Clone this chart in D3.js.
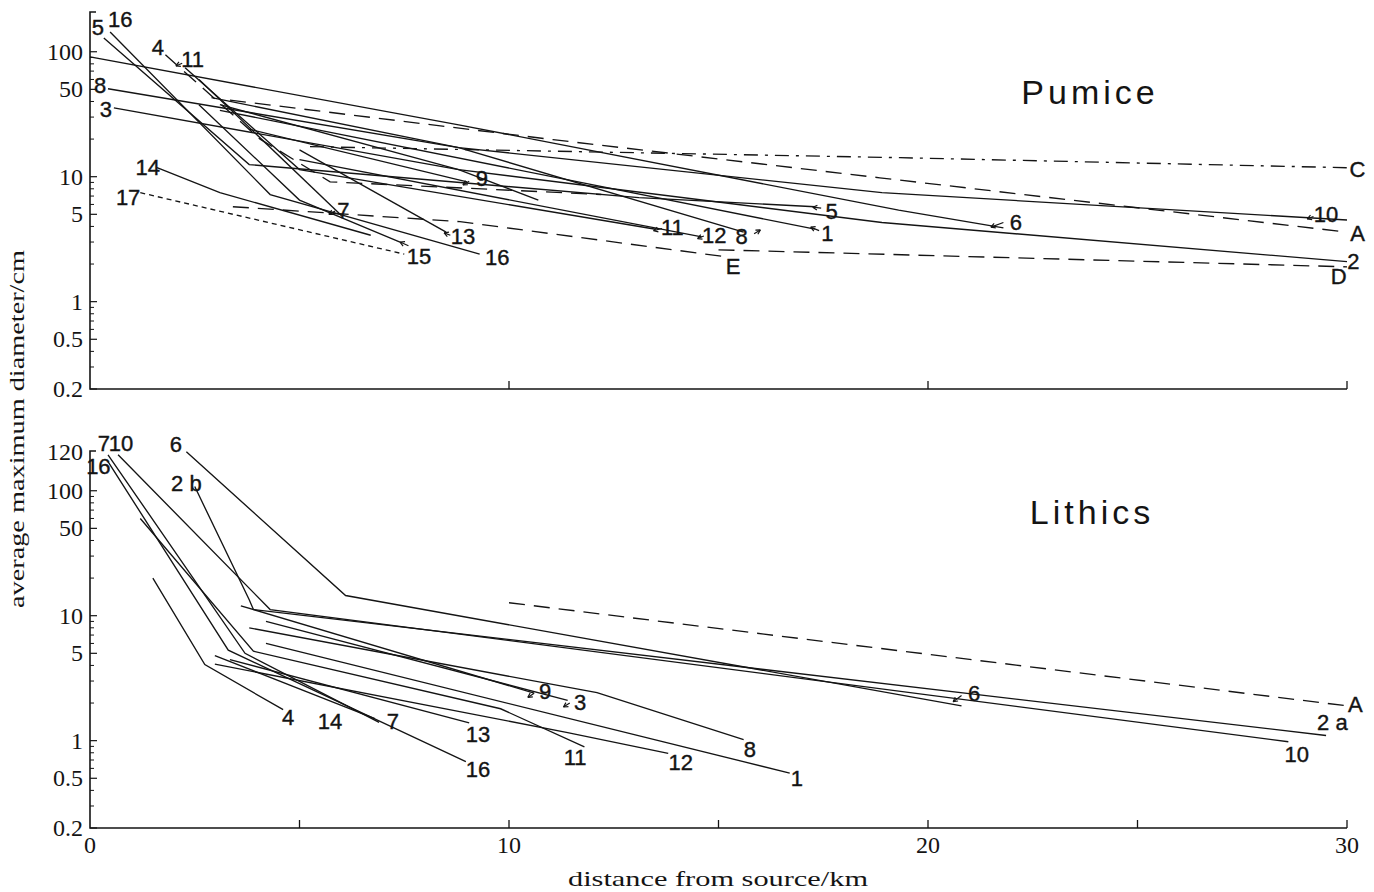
<!DOCTYPE html>
<html>
<head>
<meta charset="utf-8">
<script src="https://cdn.jsdelivr.net/npm/d3@7"></script>
<style>
  html, body { margin: 0; padding: 0; background: #ffffff; }
  svg { display: block; }
</style>
</head>
<body>
<svg id="chart" width="1374" height="892"></svg>
<script>
// ---- axis ticks -------------------------------------------------------
const xLabelTicks = [0, 10, 20, 30];
const xLowerTicks = [5, 10, 15, 20, 25, 30];
const xUpperTicks = [10, 20, 30];
const yLabelTicks = [0.2, 0.5, 1, 5, 10, 50, 100];
const yMinorTicks = [0.3, 0.4, 0.6, 0.7, 0.8, 0.9, 2, 3, 4, 6, 7, 8, 9, 20, 30, 40, 60, 70, 80, 90];
const yTopLabelLower = "120";

// ---- pumice: distance (km) vs average maximum diameter (cm) -----------
const pumiceLines = [
  { id: "6",  dash: "solid",  pts: [[0, 91], [8.8, 26], [19.3, 5.4], [21.8, 3.9]] },
  { id: "10", dash: "solid",  pts: [[2.9, 42.9], [8.8, 17.1], [18.9, 7.45], [30, 4.5]] },
  { id: "2",  dash: "solid",  pts: [[3.1, 37.7], [8.8, 11.4], [18.9, 4.3], [30, 2.09]] },
  { id: "8",  dash: "solid",  pts: [[0.43, 50.6], [8.8, 17.1], [15.6, 3.6]] },
  { id: "3",  dash: "solid",  pts: [[0.57, 35.6], [8.8, 11.4], [10.7, 6.5]] },
  { id: "16", dash: "solid",  pts: [[0.48, 144], [4.3, 7.2], [9.3, 2.4]] },
  { id: "5",  dash: "solid",  pts: [[0.33, 129], [3.8, 12.5], [13.1, 6.8], [17.3, 5.75]] },
  { id: "4",  dash: "dashed", pts: [[1.8, 94.6], [4.06, 20], [5.73, 9.1], [12.2, 7.2]] },
  { id: "11", dash: "solid",  pts: [[2.27, 74.5], [5.0, 11.4], [13.5, 3.8]] },
  { id: "14", dash: "solid",  pts: [[1.6, 11.8], [3.1, 7.45], [6.7, 3.4]] },
  { id: "17", dash: "dotted", pts: [[1.2, 7.45], [7.5, 2.4]] },
  { id: "15", dash: "solid",  pts: [[2.6, 37.7], [5.0, 6.5], [7.4, 3.0]] },
  { id: "7",  dash: "solid",  pts: [[2.6, 60], [6.0, 4.9]] },
  { id: "13", dash: "solid",  pts: [[5.0, 16.4], [8.5, 3.6]] },
  { id: "9",  dash: "solid",  pts: [[3.8, 24], [9.0, 9.1]] },
  { id: "12", dash: "solid",  pts: [[5.0, 13.7], [14.6, 3.3]] },
  { id: "1",  dash: "solid",  pts: [[3.1, 34], [17.3, 3.8]] },
  { id: "A",  dash: "dashed", pts: [[3.34, 41], [11.05, 19.8], [18.85, 9.8], [30, 3.6]] },
  { id: "C",  dash: "dashdot", pts: [[5.25, 17.4], [19.33, 14.2], [30, 11.8]] },
  { id: "D",  dash: "dashed", pts: [[15.0, 2.6], [30, 1.9]] },
  { id: "E",  dash: "dashed", pts: [[3.41, 5.75], [8.83, 4.37], [15.16, 2.29]] }
];

// ---- lithics ----------------------------------------------------------
const lithicLines = [
  { id: "6",  dash: "solid",  pts: [[2.3, 205], [6.1, 14.5], [20.8, 1.9]] },
  { id: "2b", dash: "solid",  pts: [[2.5, 108], [3.8, 13.4], [3.9, 11.2]] },
  { id: "2a", dash: "solid",  pts: [[3.9, 11.2], [29.5, 1.1]] },
  { id: "10", dash: "solid",  pts: [[0.67, 194], [4.3, 11.2], [28.6, 0.98]] },
  { id: "7",  dash: "solid",  pts: [[0.43, 194], [3.7, 5.0], [6.9, 1.4]] },
  { id: "16", dash: "solid",  pts: [[0.43, 171], [3.3, 5.3], [8.97, 0.68]] },
  { id: "A",  dash: "dashed", pts: [[10.0, 12.7], [30, 1.9]] },
  { id: "8",  dash: "solid",  pts: [[3.8, 8.0], [12.1, 2.42], [15.6, 1.02]] },
  { id: "1",  dash: "solid",  pts: [[4.2, 6.0], [16.7, 0.55]] },
  { id: "12", dash: "solid",  pts: [[2.98, 4.1], [11.4, 1.16], [13.8, 0.79]] },
  { id: "11", dash: "solid",  pts: [[1.2, 60], [3.9, 5.2], [9.8, 1.8], [11.8, 0.89]] },
  { id: "13", dash: "solid",  pts: [[3.34, 4.45], [9.05, 1.39]] },
  { id: "4",  dash: "solid",  pts: [[1.5, 20], [2.74, 4.06], [4.61, 1.77]] },
  { id: "14", dash: "solid",  pts: [[2.98, 4.8], [6.8, 1.5]] },
  { id: "9",  dash: "solid",  pts: [[3.6, 12], [10.6, 2.4]] },
  { id: "3",  dash: "solid",  pts: [[4.2, 9.0], [11.4, 2.1]] }
];

// ---- line labels (text, position, optional pointer end) ---------------
const pumiceLabels = [
  { t: "5",  at: [0.19, 156] }, { t: "16", at: [0.72, 180] },
  { t: "4",  at: [1.62, 108] }, { t: "11", at: [2.45, 86], ptr: [[2.2, 81], [2.05, 77]] },
  { t: "8",  at: [0.24, 53.5] }, { t: "3", at: [0.38, 34.2] },
  { t: "14", at: [1.38, 11.8] }, { t: "17", at: [0.91, 6.8] },
  { t: "15", at: [7.85, 2.3], ptr: [[7.6, 2.8], [7.4, 3.0]] },
  { t: "16", at: [9.72, 2.25] },
  { t: "7",  at: [6.05, 5.4], ptr: [[5.85, 5.3], [5.7, 5.0]] },
  { t: "13", at: [8.9, 3.3],  ptr: [[8.6, 3.4], [8.45, 3.55]] },
  { t: "9",  at: [9.35, 9.6], ptr: [[9.05, 9.2], [8.9, 8.6]] },
  { t: "11", at: [13.9, 3.95], ptr: [[13.65, 3.85], [13.45, 3.7]] },
  { t: "12", at: [14.9, 3.4], ptr: [[14.65, 3.35], [14.5, 3.2]] },
  { t: "8",  at: [15.55, 3.3], ptr: [[15.85, 3.5], [16.0, 3.75]] },
  { t: "5",  at: [17.7, 5.25], ptr: [[17.45, 5.6], [17.25, 5.7]] },
  { t: "1",  at: [17.6, 3.5], ptr: [[17.4, 3.7], [17.2, 3.95]] },
  { t: "6",  at: [22.1, 4.3], ptr: [[21.8, 4.3], [21.5, 3.95]] },
  { t: "10", at: [29.5, 4.95], ptr: [[29.2, 4.8], [29.05, 4.6]] },
  { t: "C",  at: [30.25, 11.4] }, { t: "A", at: [30.25, 3.5] },
  { t: "2",  at: [30.15, 2.1] }, { t: "D", at: [29.8, 1.6] },
  { t: "E",  at: [15.35, 1.9] }
];
const lithicLabels = [
  { t: "7",  at: [0.33, 240] }, { t: "10", at: [0.74, 240] },
  { t: "16", at: [0.2, 155] }, { t: "6", at: [2.05, 235] },
  { t: "2 b", at: [2.3, 115] },
  { t: "A",  at: [30.2, 1.95] }, { t: "2 a", at: [29.65, 1.4] },
  { t: "10", at: [28.8, 0.77] },
  { t: "6",  at: [21.1, 2.4], ptr: [[20.8, 2.3], [20.6, 2.05]] },
  { t: "9",  at: [10.86, 2.47], ptr: [[10.6, 2.4], [10.45, 2.22]] },
  { t: "3",  at: [11.7, 2.01], ptr: [[11.45, 2.0], [11.3, 1.86]] },
  { t: "8",  at: [15.75, 0.85] }, { t: "1", at: [16.87, 0.5] },
  { t: "12", at: [14.1, 0.667] }, { t: "11", at: [11.58, 0.73] },
  { t: "13", at: [9.26, 1.12] }, { t: "16", at: [9.26, 0.586] },
  { t: "4",  at: [4.73, 1.53] }, { t: "14", at: [5.73, 1.42] },
  { t: "7",  at: [7.23, 1.42] }
];

// ---- drawing ----------------------------------------------------------
const svg = d3.select("#chart");
const ink = "#141414";
const serif = "'Liberation Serif', 'DejaVu Serif', serif";
const hand = "'Liberation Sans Narrow', 'Liberation Sans', 'DejaVu Sans Condensed', sans-serif";

const x = d3.scaleLinear().domain([0, 30]).range([90, 1347]);
const yDomain = [0.2, 208];
const panels = [
  { title: "Pumice",  lines: pumiceLines, labels: pumiceLabels,
    y: d3.scaleLog().domain(yDomain).range([389, 12]), xTicks: xUpperTicks, showX: false, titleAt: [1090, 104] },
  { title: "Lithics", lines: lithicLines, labels: lithicLabels,
    y: d3.scaleLog().domain(yDomain).range([828, 451]), xTicks: xLowerTicks, showX: true, titleAt: [1092, 524] }
];

const dashes = { solid: null, dashed: "16,9", dotted: "5,4", dashdot: "14,7,3,7" };

panels.forEach((p, pi) => {
  const g = svg.append("g");
  const y = p.y;
  const [yBottom, yTop] = y.range();

  // y axis line with the small top bracket, and the x axis line
  g.append("path")
    .attr("d", `M${x(0) + 6},${yTop}H${x(0)}V${yBottom}H${x(30)}`)
    .attr("fill", "none").attr("stroke", ink).attr("stroke-width", 1.6);

  // y ticks (pointing inward)
  g.selectAll(".ymaj").data(yLabelTicks).join("line")
    .attr("x1", x(0)).attr("x2", x(0) + 7)
    .attr("y1", d => y(d)).attr("y2", d => y(d))
    .attr("stroke", ink).attr("stroke-width", 1.2);
  g.selectAll(".ymin").data(yMinorTicks).join("line")
    .attr("x1", x(0)).attr("x2", x(0) + 4)
    .attr("y1", d => y(d)).attr("y2", d => y(d))
    .attr("stroke", ink).attr("stroke-width", 1);

  g.selectAll(".ylab").data(yLabelTicks).join("text")
    .attr("x", x(0) - 7).attr("y", d => y(d))
    .attr("text-anchor", "end").attr("dominant-baseline", "central")
    .attr("font-family", serif).attr("font-size", 24).attr("fill", ink)
    .text(d => d3.format("~g")(d));
  if (pi === 1) {
    g.append("text").attr("x", x(0) - 7).attr("y", yTop + 1)
      .attr("text-anchor", "end").attr("dominant-baseline", "central")
      .attr("font-family", serif).attr("font-size", 24).attr("fill", ink)
      .text(yTopLabelLower);
  }

  // x ticks (pointing up into the panel)
  g.selectAll(".xt").data(p.xTicks).join("line")
    .attr("x1", d => x(d)).attr("x2", d => x(d))
    .attr("y1", yBottom).attr("y2", yBottom - 8)
    .attr("stroke", ink).attr("stroke-width", 1.3);
  if (p.showX) {
    g.selectAll(".xlab").data(xLabelTicks).join("text")
      .attr("x", d => x(d)).attr("y", yBottom + 17)
      .attr("text-anchor", "middle").attr("dominant-baseline", "central")
      .attr("font-family", serif).attr("font-size", 24).attr("fill", ink)
      .text(d => d);
  }

  // series
  const line = d3.line().x(d => x(d[0])).y(d => y(d[1]));
  g.selectAll(".series").data(p.lines).join("path")
    .attr("d", d => line(d.pts))
    .attr("fill", "none").attr("stroke", ink).attr("stroke-width", 1.35)
    .attr("stroke-dasharray", d => dashes[d.dash]);

  // labels and pointers
  p.labels.forEach(l => {
    g.append("text").attr("x", x(l.at[0])).attr("y", y(l.at[1]))
      .attr("text-anchor", "middle").attr("dominant-baseline", "central")
      .attr("font-family", hand).attr("font-size", 22).attr("fill", ink)
      .attr("stroke", ink).attr("stroke-width", 0.4)
      .text(l.t);
    if (l.ptr) {
      const [a, b] = l.ptr;
      const x1 = x(a[0]), y1 = y(a[1]), x2 = x(b[0]), y2 = y(b[1]);
      g.append("line").attr("x1", x1).attr("y1", y1).attr("x2", x2).attr("y2", y2)
        .attr("stroke", ink).attr("stroke-width", 1.2);
      const ang = Math.atan2(y2 - y1, x2 - x1);
      const h = 5;
      g.append("path")
        .attr("d", `M${x2},${y2}L${x2 - h * Math.cos(ang - 0.5)},${y2 - h * Math.sin(ang - 0.5)}M${x2},${y2}L${x2 - h * Math.cos(ang + 0.5)},${y2 - h * Math.sin(ang + 0.5)}`)
        .attr("stroke", ink).attr("stroke-width", 1.2).attr("fill", "none");
    }
  });

  // panel title
  g.append("text").attr("x", p.titleAt[0]).attr("y", p.titleAt[1])
    .attr("text-anchor", "middle")
    .attr("font-family", "'Liberation Sans', 'DejaVu Sans', sans-serif")
    .attr("font-size", 34).attr("letter-spacing", 4).attr("fill", ink)
    .text(p.title);
});

// axis titles
svg.append("text")
  .attr("transform", "translate(24,429) rotate(-90)")
  .attr("text-anchor", "middle")
  .attr("font-family", serif).attr("font-size", 22).attr("fill", ink)
  .attr("textLength", 358).attr("lengthAdjust", "spacingAndGlyphs")
  .text("average maximum diameter/cm");
svg.append("text")
  .attr("x", 718).attr("y", 886)
  .attr("text-anchor", "middle")
  .attr("font-family", serif).attr("font-size", 22).attr("fill", ink)
  .attr("textLength", 300).attr("lengthAdjust", "spacingAndGlyphs")
  .text("distance from source/km");
</script>
</body>
</html>
